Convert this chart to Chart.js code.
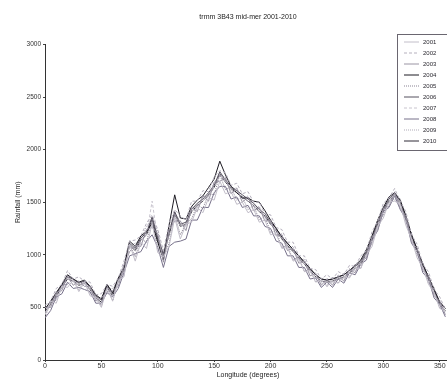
<!DOCTYPE html>
<html>
<head>
<meta charset="utf-8">
<script src="https://cdn.jsdelivr.net/npm/chart.js@4.4.1/dist/chart.umd.min.js"></script>
<style>
  html, body { margin: 0; padding: 0; background: #fff; overflow: hidden; width: 447px; height: 379px; }
  canvas { display: block; }
</style>
</head>
<body>
<canvas id="chartRain" width="460" height="379"></canvas>
<script>
// longitudes, every 5 degrees
const lons = [0,5,10,15,20,25,30,35,40,45,50,55,60,65,70,75,80,85,90,95,100,105,110,115,
  120,125,130,135,140,145,150,155,160,165,170,175,180,185,190,195,200,205,210,215,220,225,230,235,
  240,245,250,255,260,265,270,275,280,285,290,295,300,305,310,315,320,325,330,335,340,345,350,355];

const years = ['2001','2002','2003','2004','2005','2006','2007','2008','2009','2010'];

const rain2001 = [430,560,540,700,690,760,650,740,610,590,500,680,
  560,760,790,1100,940,1120,1060,1300,1020,980,1080,1350,
  1150,1290,1310,1450,1400,1540,1520,1700,1580,1600,1480,1500,
  1400,1430,1310,1330,1190,1200,1060,1070,940,960,840,850,
  740,760,700,750,730,790,780,870,870,1000,1080,1270,
  1350,1500,1510,1480,1280,1150,970,880,720,640,490,460];
const rain2002 = [520,560,680,720,850,770,790,750,740,620,630,720,
  700,780,940,1130,1140,1180,1300,1380,1240,1040,1300,1430,
  1370,1330,1510,1510,1610,1600,1740,1800,1780,1660,1680,1580,
  1600,1500,1500,1390,1380,1260,1240,1120,1120,990,990,870,
  860,770,810,770,840,810,900,890,990,1040,1220,1320,
  1490,1540,1630,1510,1410,1190,1100,910,840,670,600,480];
const rain2003 = [500,500,640,660,800,710,750,700,700,560,590,650,
  660,700,900,1030,1090,1080,1240,1260,1200,930,1240,1320,
  1320,1230,1450,1410,1560,1510,1690,1700,1730,1580,1630,1500,
  1550,1420,1450,1320,1330,1180,1190,1040,1060,920,940,800,
  820,710,770,710,800,750,860,830,940,970,1170,1240,
  1440,1460,1590,1440,1370,1120,1060,850,800,610,560,430];
const rain2004 = [480,560,640,720,810,770,740,760,700,620,580,720,
  640,780,880,1130,1080,1180,1220,1300,1120,950,1280,1570,
  1350,1340,1460,1520,1560,1640,1720,1890,1760,1650,1590,1540,
  1540,1510,1500,1420,1330,1250,1170,1110,1050,990,930,870,
  810,770,760,770,790,810,850,900,950,1050,1180,1330,
  1450,1550,1590,1520,1370,1190,1050,910,790,670,550,490];
const rain2005 = [410,540,570,710,720,770,670,750,630,610,510,700,
  560,760,800,1110,980,1150,1120,1340,1060,1000,1110,1380,
  1190,1300,1340,1480,1440,1580,1570,1760,1620,1640,1520,1550,
  1430,1470,1330,1370,1210,1230,1070,1090,950,980,840,870,
  740,780,700,790,730,830,790,910,870,1050,1100,1330,
  1370,1550,1520,1530,1300,1210,990,930,730,690,490,510];
const rain2006 = [490,550,630,710,790,770,730,750,690,610,570,710,
  630,770,870,1110,1060,1160,1210,1360,1160,1010,1210,1410,
  1290,1310,1430,1490,1530,1590,1660,1790,1710,1650,1610,1570,
  1530,1490,1430,1390,1310,1250,1170,1110,1050,990,930,870,
  810,770,760,770,790,810,850,890,930,1030,1160,1310,
  1430,1530,1580,1510,1360,1190,1050,910,790,670,550,490];
const rain2007 = [450,520,610,690,770,750,710,730,670,590,550,690,
  610,750,850,1090,1040,1140,1190,1510,1140,990,1190,1390,
  1270,1290,1410,1470,1510,1570,1640,1770,1690,1630,1590,1550,
  1510,1470,1410,1370,1290,1230,1150,1090,1030,970,910,850,
  790,750,740,750,770,790,830,870,910,1010,1140,1290,
  1410,1510,1560,1490,1340,1170,1030,890,770,650,530,470];
const rain2008 = [400,470,600,630,740,680,690,670,650,540,540,640,
  600,680,830,990,1010,1030,1130,1190,1070,880,1080,1120,
  1130,1150,1330,1330,1450,1450,1590,1650,1650,1530,1550,1450,
  1470,1370,1370,1270,1250,1130,1110,990,990,880,880,770,
  780,690,740,690,770,730,830,810,910,950,1140,1230,
  1410,1450,1560,1430,1340,1110,1030,830,770,590,530,410];
const rain2009 = [490,520,650,680,810,740,750,720,710,580,590,680,
  680,760,910,1090,1110,1140,1270,1350,1220,1000,1270,1400,
  1320,1270,1460,1450,1560,1550,1690,1750,1740,1610,1640,1530,
  1560,1450,1460,1350,1340,1210,1200,1070,1080,950,960,830,
  830,730,780,730,810,770,870,850,950,990,1180,1270,
  1450,1490,1600,1470,1380,1150,1070,870,810,630,570,450];
const rain2010 = [460,530,610,690,770,750,710,730,670,590,550,690,
  610,750,850,1090,1040,1140,1190,1340,1140,990,1190,1390,
  1270,1290,1410,1470,1510,1570,1640,1770,1690,1630,1590,1550,
  1510,1470,1410,1370,1290,1230,1150,1090,1030,970,910,850,
  790,750,740,750,770,790,830,870,910,1010,1140,1290,
  1410,1510,1560,1490,1340,1170,1030,890,770,650,530,470];

const rainByYear = [rain2001, rain2002, rain2003, rain2004, rain2005,
  rain2006, rain2007, rain2008, rain2009, rain2010];

const xTicks = [0, 50, 100, 150, 200, 250, 300, 350];
const yTicks = [0, 500, 1000, 1500, 2000, 2500, 3000];

const lineColors = ['#c2bec9', '#b5b0bd', '#9a94a3', '#1c1a22', '#8a8494',
  '#55505e', '#c8c4ce', '#77718a', '#b0acb8', '#2e2b36'];
const lineDashes = [[], [3, 2], [], [], [1, 1], [], [3, 2], [], [1, 1], []];

const fontFamily = '"Liberation Sans", Arial, sans-serif';

// MATLAB-like legend box inside the top-right of the plot
const boxLegend = {
    id: 'boxLegend',
    afterDraw(chart) {
        const ctx = chart.ctx;
        const left = 397, top = 34, width = 52, rowH = 11;
        const height = rowH * chart.data.datasets.length + 6;
        ctx.save();
        ctx.fillStyle = '#ffffff';
        ctx.fillRect(left, top, width, height);
        ctx.strokeStyle = '#6a6670';
        ctx.lineWidth = 1;
        ctx.strokeRect(left + 0.5, top + 0.5, width, height);
        ctx.font = '6px ' + fontFamily;
        ctx.textBaseline = 'middle';
        chart.data.datasets.forEach((ds, i) => {
            const y = top + 8 + i * rowH;
            ctx.beginPath();
            ctx.setLineDash(ds.borderDash || []);
            ctx.strokeStyle = ds.borderColor;
            ctx.lineWidth = 1;
            ctx.moveTo(left + 7, y);
            ctx.lineTo(left + 22, y);
            ctx.stroke();
            ctx.setLineDash([]);
            ctx.fillStyle = '#2a2830';
            ctx.fillText(ds.label, left + 26, y);
        });
        ctx.restore();
    }
};

const buildRainChart = () => {
    const canvas = document.getElementById('chartRain');
    if (!canvas || typeof Chart === 'undefined') return;

    const datasets = years.map((year, i) => ({
        label: year,
        data: lons.map((lon, j) => ({ x: lon, y: rainByYear[i][j] })),
        borderColor: lineColors[i],
        borderDash: lineDashes[i],
        borderWidth: 1,
        pointRadius: 0,
        tension: 0,
        fill: false
    }));

    new Chart(canvas.getContext('2d'), {
        type: 'line',
        data: { datasets },
        options: {
            responsive: false,
            animation: false,
            devicePixelRatio: 1,
            layout: { padding: { left: 14, right: 9, top: 0, bottom: 0 } },
            scales: {
                x: {
                    type: 'linear',
                    min: 0,
                    max: 360,
                    afterBuildTicks: (scale) => { scale.ticks = xTicks.map(v => ({ value: v })); },
                    afterFit: (scale) => { scale.height = 19; },
                    grid: { drawOnChartArea: false, color: '#444', tickLength: 2 },
                    border: { color: '#333', width: 1 },
                    ticks: { color: '#333', font: { size: 7, family: fontFamily }, padding: 0,
                        maxRotation: 0, callback: (v) => String(v) },
                    title: { display: true, text: 'Longitude (degrees)', color: '#222',
                        font: { size: 7, family: fontFamily }, padding: { top: 0, bottom: 0 } }
                },
                y: {
                    min: 0,
                    max: 3000,
                    afterBuildTicks: (scale) => { scale.ticks = yTicks.map(v => ({ value: v })); },
                    afterFit: (scale) => { scale.width = 31; },
                    grid: { drawOnChartArea: false, color: '#444', tickLength: 2 },
                    border: { color: '#333', width: 1 },
                    ticks: { color: '#333', font: { size: 6.5, family: fontFamily }, padding: 2,
                        callback: (v) => String(v) },
                    title: { display: true, text: 'Rainfall (mm)', color: '#222',
                        font: { size: 7, family: fontFamily }, padding: { top: 0, bottom: 2 } }
                }
            },
            plugins: {
                legend: { display: false },
                tooltip: { enabled: false },
                title: {
                    display: true,
                    fullSize: false,
                    text: 'trmm 3B43 mid-mer 2001-2010',
                    color: '#222',
                    font: { size: 7, weight: 'normal', family: fontFamily },
                    padding: { top: 13, bottom: 23 }
                }
            }
        },
        plugins: [boxLegend]
    });
};

document.addEventListener('DOMContentLoaded', buildRainChart);
</script>
</body>
</html>
